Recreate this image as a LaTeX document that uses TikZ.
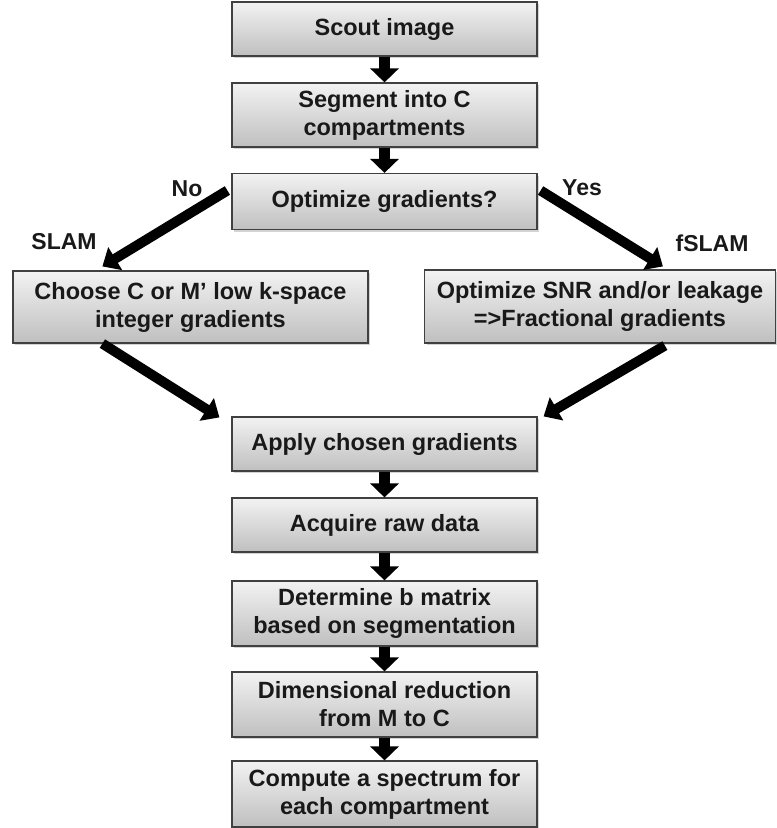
\documentclass[tikz,border=0pt]{standalone}
\usepackage{fontspec}
\setmainfont{Liberation Sans}
\usetikzlibrary{arrows.meta,shadows,calc}
\begin{document}
\begin{tikzpicture}[x=1pt,y=-1pt,
  box/.style={draw=black!75, line width=1.2pt, top color=black!5, bottom color=black!25,
    drop shadow={opacity=0.35, shadow xshift=2pt, shadow yshift=-2pt},
    minimum width=305pt, inner sep=2pt, align=center, text=black!90,
    font=\fontsize{23.5pt}{28pt}\selectfont\bfseries},
  varr/.style={line width=11pt, draw=black, -{Triangle[width=28pt,length=14pt]}},
  darr/.style={line width=10pt, draw=black, -{Triangle[width=26pt,length=15pt]}},
  lbl/.style={font=\fontsize{23pt}{27pt}\selectfont\bfseries, text=black!90}]
\useasboundingbox (0,0) rectangle (777,828);
\node[box, minimum height=54pt] (scout) at (384.5,29) {Scout image};
\node[box, minimum height=64pt] (seg) at (384.5,115) {Segment into C\\compartments};
\node[box, minimum height=56pt] (opt) at (384.5,201.5) {Optimize gradients?};
\node[box, minimum height=72pt, minimum width=355pt] (choose) at (190.5,307) {Choose C or M’ low k-space\\integer gradients};
\node[box, minimum height=73pt, minimum width=351pt] (snr) at (600,306.5) {Optimize SNR and/or leakage\\=>Fractional gradients};
\node[box, minimum height=54pt] (apply) at (384.5,444) {Apply chosen gradients};
\node[box, minimum height=54pt] (acq) at (384.5,525) {Acquire raw data};
\node[box, minimum height=65pt] (det) at (384.5,613.5) {Determine b matrix\\based on segmentation};
\node[box, minimum height=65pt] (dim) at (384.5,704.5) {Dimensional reduction\\from M to C};
\node[box, minimum height=66pt] (comp) at (384.5,794) {Compute a spectrum for\\each compartment};

\draw[varr] (scout.south) -- (seg.north);
\draw[varr] (seg.south) -- (opt.north);
\draw[varr] (apply.south) -- (acq.north);
\draw[varr] (acq.south) -- (det.north);
\draw[varr] (det.south) -- (dim.north);
\draw[varr] (dim.south) -- (comp.north);

\draw[darr] ([xshift=-4pt,yshift=11pt]opt.west) -- ([xshift=90pt,yshift=4pt]choose.north west);
\draw[darr] ([xshift=3pt,yshift=11pt]opt.east) -- ([xshift=239pt,yshift=3pt]snr.north west);
\draw[darr] ([xshift=90pt]choose.south west) -- ([xshift=-12pt,yshift=-1pt]apply.north west);
\draw[darr] ([xshift=241pt,yshift=-2pt]snr.south west) -- ([xshift=6pt]apply.north east);

\node[lbl] (no) at (187,189) {No};
\node[lbl] (slam) at (64,242) {SLAM};
\node[lbl] (yes) at (582,188) {Yes};
\node[lbl] (fslam) at (712,243) {fSLAM};
\end{tikzpicture}
\end{document}
